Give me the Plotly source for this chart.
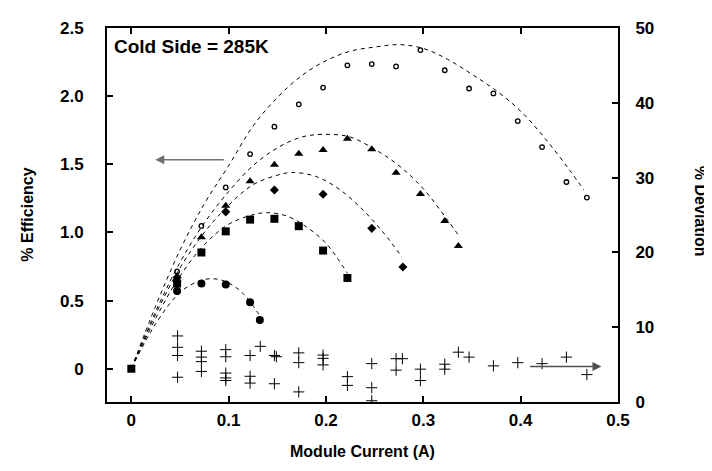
import plotly.graph_objects as go

# ---------------- data ----------------
# Series 1 (open circles, highest efficiency)
cur_1 = [0.047, 0.072, 0.097, 0.122, 0.147, 0.172, 0.197, 0.222, 0.247, 0.272,
         0.297, 0.322, 0.347, 0.372, 0.397, 0.422, 0.447, 0.468]
eff_1 = [0.714, 1.048, 1.33, 1.575, 1.776, 1.94, 2.063, 2.226, 2.235, 2.218,
         2.338, 2.19, 2.056, 2.02, 1.817, 1.626, 1.37, 1.256]
# Series 2 (triangles)
cur_2 = [0.047, 0.072, 0.097, 0.122, 0.147, 0.172, 0.197, 0.222, 0.247, 0.272,
         0.297, 0.322, 0.336]
eff_2 = [0.654, 0.964, 1.196, 1.375, 1.497, 1.578, 1.605, 1.688, 1.61, 1.438,
         1.282, 1.084, 0.90]
# Series 3 (diamonds)
cur_3 = [0.047, 0.097, 0.147, 0.197, 0.247, 0.279]
eff_3 = [0.67, 1.151, 1.311, 1.28, 1.03, 0.747]
# Series 4 (squares, incl. origin)
cur_4 = [0.0, 0.047, 0.072, 0.097, 0.122, 0.147, 0.172, 0.197, 0.222]
eff_4 = [0.0, 0.625, 0.853, 1.008, 1.094, 1.10, 1.046, 0.867, 0.666]
# Series 5 (filled circles)
cur_5 = [0.047, 0.072, 0.097, 0.122, 0.132]
eff_5 = [0.571, 0.625, 0.618, 0.487, 0.358]

# Dashed model curves
fit1_x = [0, 0.025, 0.05, 0.075, 0.1, 0.125, 0.15, 0.175, 0.2, 0.225, 0.25,
          0.275, 0.3, 0.325, 0.35, 0.375, 0.4, 0.425, 0.45, 0.465]
fit1_y = [0, 0.46, 0.87, 1.21, 1.49, 1.78, 1.99, 2.15, 2.26, 2.33, 2.36,
          2.378, 2.35, 2.27, 2.16, 2.04, 1.89, 1.69, 1.46, 1.31]
fit2_x = [0, 0.025, 0.05, 0.075, 0.1, 0.125, 0.15, 0.175, 0.2, 0.225, 0.25,
          0.275, 0.3, 0.325, 0.337]
fit2_y = [0, 0.42, 0.78, 1.07, 1.30, 1.49, 1.62, 1.70, 1.72, 1.70, 1.61,
          1.49, 1.32, 1.09, 0.97]
fit3_x = [0, 0.025, 0.05, 0.075, 0.1, 0.125, 0.15, 0.165, 0.19, 0.215, 0.24,
          0.26, 0.278]
fit3_y = [0, 0.40, 0.74, 1.0, 1.20, 1.35, 1.42, 1.44, 1.41, 1.31, 1.15,
          0.99, 0.82]
fit4_x = [0, 0.025, 0.05, 0.075, 0.1, 0.125, 0.14, 0.16, 0.18, 0.2, 0.222]
fit4_y = [0, 0.37, 0.68, 0.91, 1.06, 1.13, 1.145, 1.12, 1.04, 0.92, 0.70]
fit5_x = [0, 0.025, 0.05, 0.07, 0.085, 0.1, 0.115, 0.131]
fit5_y = [0, 0.33, 0.56, 0.645, 0.66, 0.63, 0.55, 0.40]

# % deviation (right axis)
dev_x = [0.0475, 0.0475, 0.0475, 0.0475,
         0.072, 0.072, 0.072, 0.072,
         0.097, 0.097, 0.097, 0.097, 0.097,
         0.122, 0.122, 0.122,
         0.1325,
         0.147, 0.149, 0.147,
         0.172, 0.172, 0.172,
         0.197, 0.197, 0.197,
         0.222, 0.222,
         0.247, 0.247, 0.247,
         0.272, 0.272, 0.2785,
         0.297, 0.297,
         0.322, 0.322,
         0.336, 0.347, 0.372, 0.397, 0.422, 0.447, 0.468]
dev_y = [8.83, 7.31, 6.22, 3.31,
         6.79, 6.0, 5.4, 4.09,
         7.0, 6.05, 3.87, 3.22, 2.87,
         6.22, 3.44, 2.53,
         7.44,
         6.22, 6.05, 2.44,
         6.57, 5.26, 1.35,
         6.27, 5.83, 4.96,
         3.39, 2.22,
         5.13, 1.91, 0.17,
         5.79, 4.26, 5.79,
         4.39, 2.87,
         5.05, 4.39,
         6.66, 6.0, 4.83, 5.26, 5.13, 6.0, 3.66]

x_ticks = [0, 0.1, 0.2, 0.3, 0.4, 0.5]
x_tick_text = ["0", "0.1", "0.2", "0.3", "0.4", "0.5"]
yl_ticks = [0, 0.5, 1.0, 1.5, 2.0, 2.5]
yl_tick_text = ["0", "0.5", "1.0", "1.5", "2.0", "2.5"]
yr_ticks = [0, 10, 20, 30, 40, 50]
yr_tick_text = ["0", "10", "20", "30", "40", "50"]

# arrow annotation anchors (data units)
left_arrow_head = (0.0246, 1.533)
left_arrow_tail = (0.0965, 1.533)
right_arrow_head = (0.483, 4.74)
right_arrow_tail = (0.408, 4.74)

# ---------------- figure ----------------
FONT = "Liberation Sans"
fig = go.Figure()

dash_line = dict(color="black", width=1, dash="4px,4px")
for fx, fy in [(fit1_x, fit1_y), (fit2_x, fit2_y), (fit3_x, fit3_y),
               (fit4_x, fit4_y), (fit5_x, fit5_y)]:
    fig.add_trace(go.Scatter(x=fx, y=fy, mode="lines", line=dash_line,
                             line_shape="spline", showlegend=False,
                             hoverinfo="skip"))

fig.add_trace(go.Scatter(x=cur_5, y=eff_5, mode="markers", showlegend=False,
                         marker=dict(symbol="circle", size=8, color="black")))
fig.add_trace(go.Scatter(x=cur_4, y=eff_4, mode="markers", showlegend=False,
                         marker=dict(symbol="square", size=8, color="black")))
fig.add_trace(go.Scatter(x=cur_3, y=eff_3, mode="markers", showlegend=False,
                         marker=dict(symbol="diamond", size=7, color="black")))
fig.add_trace(go.Scatter(x=cur_2, y=eff_2, mode="markers", showlegend=False,
                         marker=dict(symbol="triangle-up", size=8, color="black")))
fig.add_trace(go.Scatter(x=cur_1, y=eff_1, mode="markers", showlegend=False,
                         marker=dict(symbol="circle-open", size=4.5, color="black",
                                     line=dict(width=1.3, color="black"))))
fig.add_trace(go.Scatter(x=dev_x, y=dev_y, mode="markers", yaxis="y2",
                         showlegend=False,
                         marker=dict(symbol="cross-thin", size=8,
                                     line=dict(width=1, color="black"))))

tickfont = dict(family=FONT, size=17, color="black", weight="bold")
axis_common = dict(showline=True, linecolor="black", linewidth=2,
                   ticks="inside", ticklen=6, tickwidth=2, tickcolor="black",
                   showgrid=False, zeroline=False, tickfont=tickfont)

title_font = dict(family=FONT, size=16, color="black", weight="bold")

# page body adds an 8px margin, so the figure is sized/offset to compensate
fig.update_layout(
    width=704, height=463,
    margin=dict(l=99, r=94, t=11, b=69),
    paper_bgcolor="white", plot_bgcolor="white",
    xaxis=dict(range=[-0.025, 0.5], tickvals=x_ticks, ticktext=x_tick_text,
               mirror="ticks", ticklabelstandoff=2, **axis_common),
    yaxis=dict(range=[-0.244, 2.5], tickvals=yl_ticks, ticktext=yl_tick_text,
               ticklabelstandoff=18, **axis_common),
    yaxis2=dict(range=[0, 50], tickvals=yr_ticks, ticktext=yr_tick_text,
                overlaying="y", side="right", ticklabelstandoff=12,
                **axis_common),
    annotations=[
        dict(text="Cold Side = 285K", xref="paper", yref="paper",
             x=0.0098, y=0.95, xanchor="left", yanchor="middle", showarrow=False,
             font=dict(family=FONT, size=19, color="black", weight="bold")),
        dict(text="% Efficiency", xref="paper", yref="paper",
             x=-0.1546, y=0.501, textangle=-90, showarrow=False,
             xanchor="center", yanchor="middle", font=title_font),
        dict(text="% Deviation", xref="paper", yref="paper",
             x=1.162, y=0.509, textangle=90, showarrow=False,
             xanchor="center", yanchor="middle", font=title_font),
        dict(text="Module Current (A)", xref="paper", yref="paper",
             x=0.5, y=-0.133, showarrow=False, xanchor="center",
             yanchor="middle", font=title_font),
        dict(x=left_arrow_head[0], y=left_arrow_head[1], xref="x", yref="y",
             ax=left_arrow_tail[0], ay=left_arrow_tail[1], axref="x", ayref="y",
             showarrow=True, arrowhead=2, arrowsize=1.2, arrowwidth=1.5,
             arrowcolor="#707070", text=""),
        dict(x=right_arrow_head[0], y=right_arrow_head[1], xref="x", yref="y2",
             ax=right_arrow_tail[0], ay=right_arrow_tail[1], axref="x", ayref="y2",
             showarrow=True, arrowhead=2, arrowsize=1.2, arrowwidth=1.5,
             arrowcolor="#505050", text=""),
    ],
)

fig.write_html("out.html")
